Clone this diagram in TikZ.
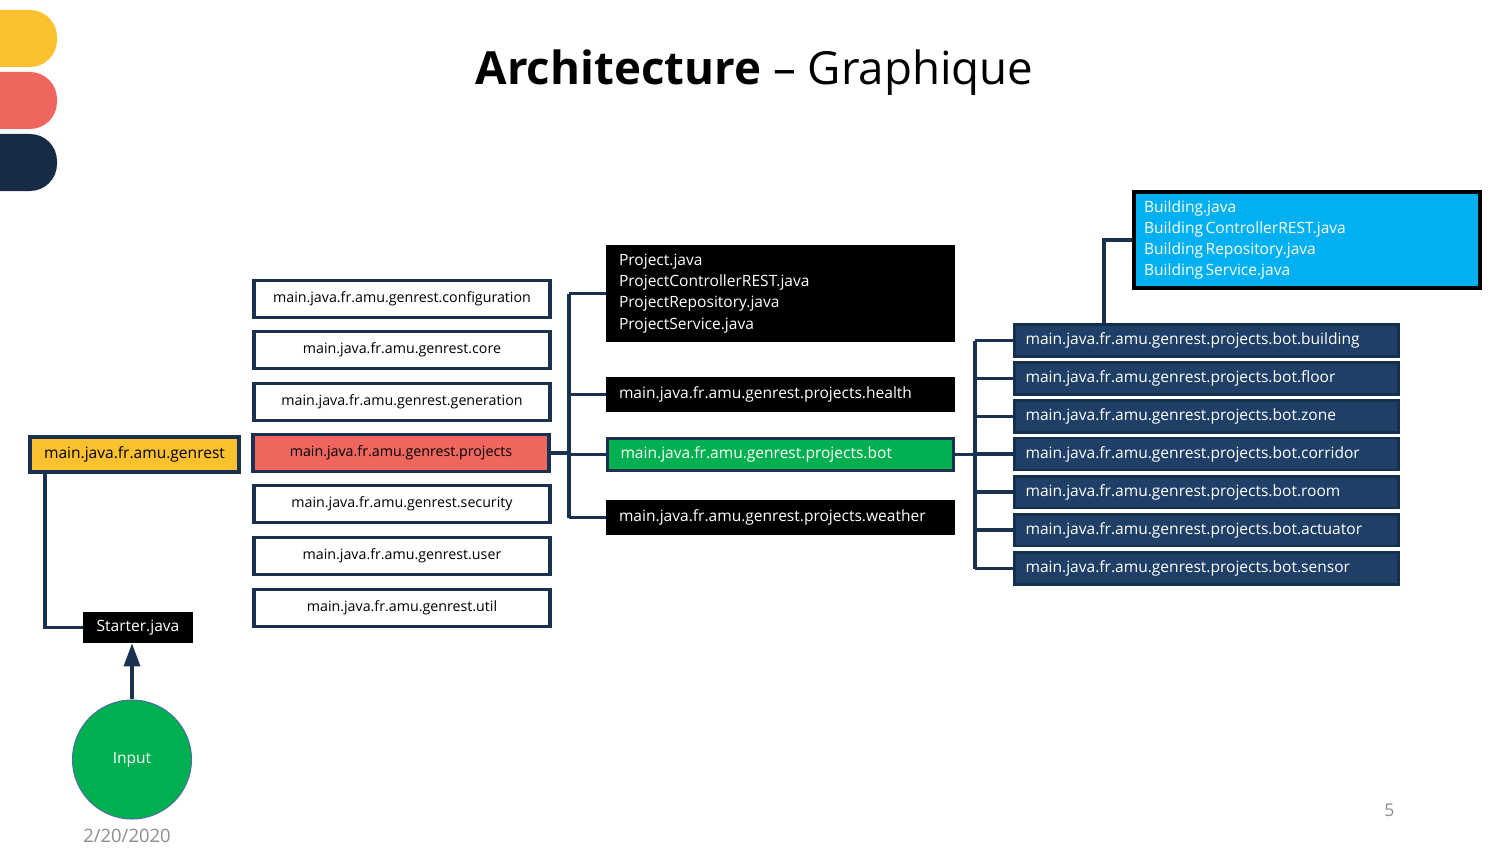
\documentclass[tikz,border=0pt]{standalone}
\usepackage{fontspec}
\setmainfont{Open Sans}
\usetikzlibrary{arrows.meta}

\definecolor{slideyellow}{HTML}{FBC12F}
\definecolor{slidered}{HTML}{EE665E}
\definecolor{slidenavy}{HTML}{172B45}
\definecolor{wirenavy}{HTML}{1B3150}
\definecolor{botblue}{HTML}{1F3F66}
\definecolor{botedge}{HTML}{15304F}
\definecolor{botgreen}{HTML}{00B050}
\definecolor{filecyan}{HTML}{00B0F0}
\definecolor{circleedge}{HTML}{4A6FA5}
\definecolor{footgray}{HTML}{8C8C8C}

\newcommand{\pkgfont}{\fontsize{8.1}{10}\selectfont}
\newcommand{\boxfont}{\fontsize{8.85}{12.1}\selectfont}

\tikzset{
    wire/.style={draw=wirenavy, line width=2pt},
    pkg/.style={draw=wirenavy, line width=2pt, fill=white, minimum width=5.92cm, minimum height=0.74cm, inner sep=0pt, font=\pkgfont},
    rootpkg/.style={pkg, fill=slideyellow, minimum width=4.18cm, minimum height=0.70cm, font=\boxfont},
    darkbox/.style={fill=black, text=white, inner xsep=0.26cm, inner ysep=0pt, text width=6.46cm, minimum height=0.70cm, align=left, font=\boxfont},
    botpkg/.style={draw=botedge, line width=1.7pt, fill=botblue, text=white, inner xsep=0.22cm, inner ysep=0pt, text width=7.24cm, minimum height=0.64cm, align=left, font=\boxfont},
}

\begin{document}
\begin{tikzpicture}[x=0.02cm, y=-0.02cm]
    \useasboundingbox (0,0) rectangle (1508,848);
    % Slide
    \fill[slideyellow, rounded corners=0.54cm] (-40,10) rectangle (57,67);
    \fill[slidered, rounded corners=0.54cm] (-40,72) rectangle (57,129);
    \fill[slidenavy, rounded corners=0.54cm] (-40,134) rectangle (57,191);
    \node[anchor=base, font=\fontsize{26}{30}\selectfont] (title) at (754.5,85)
        {\textbf{Architecture} -- Graphique};
    \node[anchor=base, text=footgray, font=\fontsize{10.5}{12}\selectfont] (date) at (127,842) {2/20/2020};
    \node[anchor=base, text=footgray, font=\fontsize{10}{12}\selectfont] (page) at (1389.5,816) {5};
    % Packages
    \node[rootpkg] (genrest) at (134.5,454.5) {main.java.fr.amu.genrest};
    \foreach \n/\y in {configuration/299, core/350, generation/402, security/504, user/556, util/608}
        \node[pkg] (\n) at (402,\y) {main.java.fr.amu.genrest.\n};
    \node[pkg, fill=slidered] (projects) at (401,453) {main.java.fr.amu.genrest.projects};
    \node[fill=black, text=white, minimum width=2.2cm, minimum height=0.62cm, inner sep=0pt, font=\boxfont] (starter) at (138,627.5) {Starter.java};
    \node[circle, draw=circleedge, line width=0.6pt, fill=botgreen, text=white, minimum size=2.38cm, font=\boxfont] (input) at (132,759.5) {Input};
    % Projects
    \node[darkbox, minimum height=1.94cm] (pfiles) at (780.5,293.5)
        {Project.java\\ProjectControllerREST.java\\ProjectRepository.java\\ProjectService.java};
    \node[darkbox] (health) at (780.5,394.5) {main.java.fr.amu.genrest.projects.health};
    \node[darkbox, draw=wirenavy, line width=1.7pt, fill=botgreen, text width=6.40cm, minimum height=0.64cm] (bot) at (780.5,454.5)
        {main.java.fr.amu.genrest.projects.bot};
    \node[darkbox] (weather) at (780.5,517.5) {main.java.fr.amu.genrest.projects.weather};
    % Bot
    \foreach \n/\y in {building/340.5, floor/378.5, zone/416.5, corridor/454, room/492, actuator/530, sensor/568.5}
        \node[botpkg] (\n) at (1206.5,\y) {main.java.fr.amu.genrest.projects.bot.\n};
    \node[draw=black, line width=2.3pt, fill=filecyan, text=white, inner xsep=0.2cm, inner ysep=0pt, text width=6.52cm, minimum height=1.92cm, align=left, font=\boxfont] (bfiles) at (1307,240)
        {Building.java\\Building\,ControllerREST.java\\Building\,Repository.java\\Building\,Service.java};
    % Ways
    \coordinate (busM) at (45,0);
    \coordinate (busA) at (569,0);
    \coordinate (busB) at (975,0);
    \coordinate (busC) at (1104,0);
    \draw[wire] (genrest.south -| busM) |- (starter.west);
    \draw[wire, -{Triangle[length=0.46cm, width=0.32cm]}] (input.north) -- (input.north |- starter.south);
    \draw[wire] (projects.east) -- (projects.east -| busA);
    \draw[wire] (pfiles.west -| busA) -- (weather.west -| busA);
    \foreach \n in {pfiles, health, bot, weather}
        \draw[wire] (\n.west -| busA) -- (\n.west);
    \draw[wire] (bot.east) -- (bot.east -| busB);
    \draw[wire] (building.west -| busB) -- (sensor.west -| busB);
    \foreach \n in {building, floor, zone, corridor, room, actuator, sensor}
        \draw[wire] (\n.west -| busB) -- (\n.west);
    \draw[wire] (building.north -| busC) |- (bfiles.west);
\end{tikzpicture}
\end{document}
